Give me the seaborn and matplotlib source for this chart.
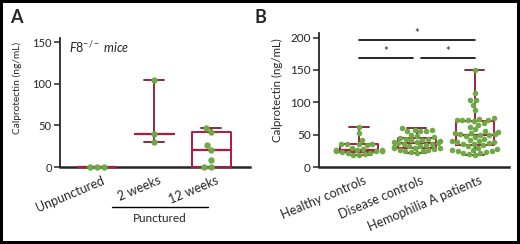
import numpy as np
import pandas as pd
import matplotlib
matplotlib.use("Agg")
import matplotlib.pyplot as plt
import matplotlib.transforms as mtransforms
import seaborn as sns

# ---------------- data ----------------
a_groups = ["Unpunctured", "2 weeks", "12 weeks"]
a_unpunctured = [0, 0, 0]
a_2weeks = [105, 40, 30]
a_12weeks = [47, 42, 27, 21, 8, 0, 0]
a_yticks = [0, 50, 100, 150]
a_note = "Punctured"

b_groups = ["Healthy controls", "Disease controls", "Hemophilia A patients"]
b_healthy = [62, 52, 42, 36, 36, 35, 35, 34, 30, 28, 27, 27, 26, 26, 25, 25,
             24, 24, 23, 22, 21, 20, 19, 18]
b_disease = [61, 57, 57, 56, 56, 55, 50, 48, 46, 45, 44, 43, 42, 41, 40, 39,
             38, 37, 37, 36, 35, 34, 33, 32, 31, 30, 29, 29, 28, 27, 26, 25,
             24, 23, 22]
b_hemophilia = [150, 114, 104, 103, 96, 88, 76, 74, 73, 73, 72, 72, 71, 68, 65,
                62, 58, 55, 54, 53, 52, 51, 51, 50, 49, 48, 46, 44, 42, 40, 40,
                39, 38, 37, 36, 35, 34, 32, 30, 28, 27, 26, 25, 24, 23, 22, 21,
                20, 19]
b_yticks = [0, 50, 100, 150, 200]
b_comparisons = [(0, 2), (0, 1), (1, 2)]
b_marks = ["*", "*", "*"]

ylabel = "Calprotectin (ng/mL)"

BOX = "#B5173F"
WHISK = "#8E2741"
GREEN = "#6DAA45"

sns.set_style("ticks")
plt.rcParams["font.family"] = ["Lato", "DejaVu Sans"]
plt.rcParams["mathtext.fontset"] = "custom"
plt.rcParams["mathtext.it"] = "Lato:italic"
plt.rcParams["mathtext.rm"] = "Lato"

df_a = pd.DataFrame({
    "group": ["Unpunctured"] * len(a_unpunctured) + ["2 weeks"] * len(a_2weeks)
             + ["12 weeks"] * len(a_12weeks),
    "value": a_unpunctured + a_2weeks + a_12weeks,
})
df_b = pd.DataFrame({
    "group": ["Healthy controls"] * len(b_healthy) + ["Disease controls"] * len(b_disease)
             + ["Hemophilia A patients"] * len(b_hemophilia),
    "value": b_healthy + b_disease + b_hemophilia,
})

fig = plt.figure(figsize=(5.2, 2.44), dpi=100, edgecolor="black", linewidth=3)
axA = fig.add_axes([60 / 520, 77 / 244, 190 / 520, 129 / 244])
axB = fig.add_axes([319 / 520, 77 / 244, 190 / 520, 134 / 244])


def style_axis(ax, yticks, ylim, xlim, tsize):
    ax.set_ylim(*ylim)
    ax.set_xlim(*xlim)
    ax.set_yticks(yticks)
    for s in ["top", "right"]:
        ax.spines[s].set_visible(False)
    ax.spines["left"].set_linewidth(1.3)
    ax.spines["bottom"].set_linewidth(1.8)
    ax.tick_params(axis="y", length=4, width=1.1, labelsize=tsize, pad=2)
    ax.tick_params(axis="x", length=0, labelsize=9, pad=3)
    ax.set_xlabel("")


# ---------------- panel A ----------------
sns.swarmplot(data=df_a, x="group", y="value", order=a_groups, color=GREEN,
              size=4.6, ax=axA, zorder=5)


def box_stats(vals):
    v = np.asarray(vals, dtype=float)
    med = np.median(v)
    if len(v) >= 4:
        q1, q3 = np.percentile(v, [25, 75], method="weibull")
    else:
        q1 = q3 = med
    return dict(med=med, q1=q1, q3=q3, whislo=v.min(), whishi=v.max(), fliers=[])


stats = [box_stats(df_a.loc[df_a.group == g, "value"]) for g in a_groups]
bp = axA.bxp(stats, positions=range(len(a_groups)), widths=0.68, capwidths=0.36,
             showfliers=False, manage_ticks=False,
             boxprops=dict(color=BOX, linewidth=1.4),
             medianprops=dict(color=BOX, linewidth=1.6),
             whiskerprops=dict(color=WHISK, linewidth=1.4),
             capprops=dict(color=WHISK, linewidth=1.4))
for k in bp:
    for art in bp[k]:
        art.set_clip_on(False)
        art.set_zorder(4)

style_axis(axA, a_yticks, (0, 155), (-0.65, 2.68), 8)
axA.set_ylabel(ylabel, fontsize=7.3, family=["Liberation Sans Narrow", "Lato"],
               va="center")
axA.yaxis.set_label_coords(-0.226, 0.61)
axA.text(0.045, 0.99, r"$\mathit{F8}^{\mathit{-/-}}$ $\mathit{mice}$", transform=axA.transAxes,
         fontsize=9, va="top", ha="left")
for c in axA.collections:
    c.set_clip_on(False)

# ---------------- panel B ----------------
sns.boxplot(data=df_b, x="group", y="value", order=b_groups, whis=(0, 100), width=0.66,
            fill=False, color=BOX, linewidth=1.4, showfliers=False, ax=axB,
            whiskerprops=dict(color=WHISK), capprops=dict(color=WHISK),
            medianprops=dict(color=BOX, linewidth=1.6))
sns.swarmplot(data=df_b, x="group", y="value", order=b_groups, color=GREEN,
              size=4.0, ax=axB, zorder=5)
style_axis(axB, b_yticks, (0, 207), (-0.69, 2.59), 8.5)
axB.set_ylabel(ylabel, fontsize=8.3, family=["Liberation Sans Narrow", "Lato"],
               va="center")
axB.yaxis.set_label_coords(-0.216, 0.575)
for c in axB.collections:
    c.set_clip_on(False)

# significance brackets
gap = 0.07
levels = {(0, 2): 196, (0, 1): 168, (1, 2): 168}
for (i, j), m in zip(b_comparisons, b_marks):
    y = levels[(i, j)]
    x0 = i + (gap if (i, j) == (1, 2) else 0)
    x1 = j - (gap if (i, j) == (0, 1) else 0)
    axB.plot([x0, x1], [y, y], color="black", lw=1.2, clip_on=False)
    axB.text((x0 + x1) / 2, y + 2, m, ha="center", va="bottom", fontsize=8)

# ---------------- tick labels ----------------
for ax in (axA, axB):
    off = mtransforms.ScaledTranslation(4 / 100, -3 / 100, fig.dpi_scale_trans)
    for lab in ax.get_xticklabels():
        lab.set_rotation(23)
        lab.set_ha("right")
        lab.set_va("top")
        lab.set_rotation_mode("anchor")
        lab.set_transform(lab.get_transform() + off)

# Punctured bracket
trans = mtransforms.blended_transform_factory(axA.transData, axA.transAxes)
axA.plot([0.26, 1.95], [-0.31, -0.31], color="black", lw=1.0, transform=trans, clip_on=False)
axA.text(1.1, -0.40, a_note, transform=trans, ha="center", va="center", fontsize=8.5)

# panel letters
fig.text(10 / 520, 1 - 9 / 244, "A", fontsize=13, fontweight="bold", va="top", ha="left")
fig.text(255 / 520, 1 - 9 / 244, "B", fontsize=13, fontweight="bold", va="top", ha="left")

fig.savefig("out.png", dpi=100, edgecolor="black")
